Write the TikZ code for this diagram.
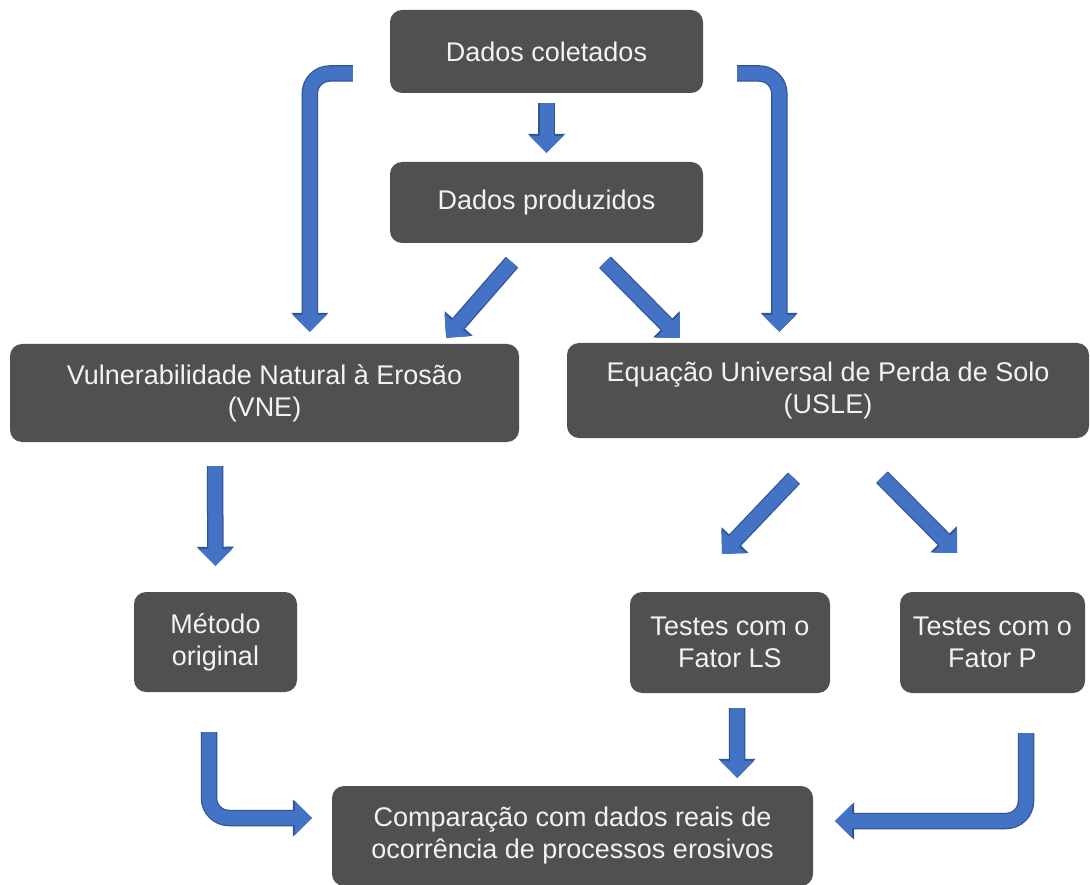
\documentclass[tikz,border=0pt]{standalone}
\usepackage{fontspec}
\setmainfont{Liberation Sans}
\usetikzlibrary{arrows.meta}
\definecolor{boxgray}{HTML}{505050}
\definecolor{boxtext}{HTML}{F2F2F2}
\definecolor{arrfill}{HTML}{4472C4}
\definecolor{arrline}{HTML}{2F5597}

\begin{document}
\begin{tikzpicture}[
  x=1pt, y=1pt,
  box/.style={rounded corners=12pt, fill=boxgray, text=boxtext, align=center,
              font=\fontsize{27}{32}\selectfont, inner sep=0pt},
  blk/.style={line width=14pt, draw=arrfill,
              -{Triangle[length=17pt, width=34pt, line width'=0.5pt]},
              preaction={draw=arrline, line width=16.5pt,
                         -{Triangle[length=19pt, width=37pt, line width'=0.5pt]}}},
  bent/.style={blk, rounded corners=20pt}
]
\useasboundingbox (0,0) rectangle (1090,-885);

\node[box, minimum width=313pt, minimum height=83pt] (col) at (546.5,-51.5)
  {Dados coletados};
\node[box, minimum width=313pt, minimum height=81pt] (prod) at (546.5,-202.5)
  {Dados produzidos};
\node[box, minimum width=509pt, minimum height=98pt] (vne) at (264.5,-393)
  {Vulnerabilidade Natural à Erosão\\(VNE)};
\node[box, minimum width=522pt, minimum height=95pt] (usle) at (828,-390.5)
  {Equação Universal de Perda de Solo\\(USLE)};
\node[box, minimum width=163pt, minimum height=100pt] (met) at (215.5,-642)
  {Método\\original};
\node[box, minimum width=200pt, minimum height=101pt] (ls) at (730,-642.5)
  {Testes com o\\Fator LS};
\node[box, minimum width=185pt, minimum height=101pt] (fp) at (992.5,-642.5)
  {Testes com o\\Fator P};
\node[box, minimum width=481pt, minimum height=100pt] (comp) at (572.5,-836)
  {Comparação com dados reais de\\ocorrência de processos erosivos};

\draw[blk] ([yshift=-10pt]col.south) -- ([yshift=9pt]prod.north);
\draw[blk] ([xshift=-34.5pt,yshift=-19pt]prod.south) -- ([xshift=-73pt,yshift=6pt]vne.north east);
\draw[blk] ([xshift=58.5pt,yshift=-19pt]prod.south) -- ([xshift=113pt,yshift=5pt]usle.north west);
\draw[bent] ([xshift=-37pt,yshift=-22pt]col.west) -| ([xshift=300pt,yshift=12pt]vne.north west);
\draw[bent] ([xshift=34pt,yshift=-22pt]col.east) -| ([xshift=212.5pt,yshift=11pt]usle.north west);
\draw[blk] ([xshift=-49.5pt,yshift=-24pt]vne.south) -- ([yshift=26pt]met.north);
\draw[blk] ([xshift=-34pt,yshift=-40pt]usle.south) -- ([xshift=-8pt,yshift=38pt]ls.north);
\draw[blk] ([xshift=54pt,yshift=-39pt]usle.south) -- ([xshift=-35.5pt,yshift=39pt]fp.north);
\draw[blk] ([xshift=7pt,yshift=-15pt]ls.south) -- ([xshift=-76pt,yshift=8pt]comp.north east);
\draw[bent] ([xshift=-6.5pt,yshift=-40pt]met.south) |- ([xshift=-20pt,yshift=18pt]comp.west);
\draw[bent] ([xshift=33.5pt,yshift=-40pt]fp.south) |- ([xshift=22pt,yshift=15pt]comp.east);

\end{tikzpicture}
\end{document}
